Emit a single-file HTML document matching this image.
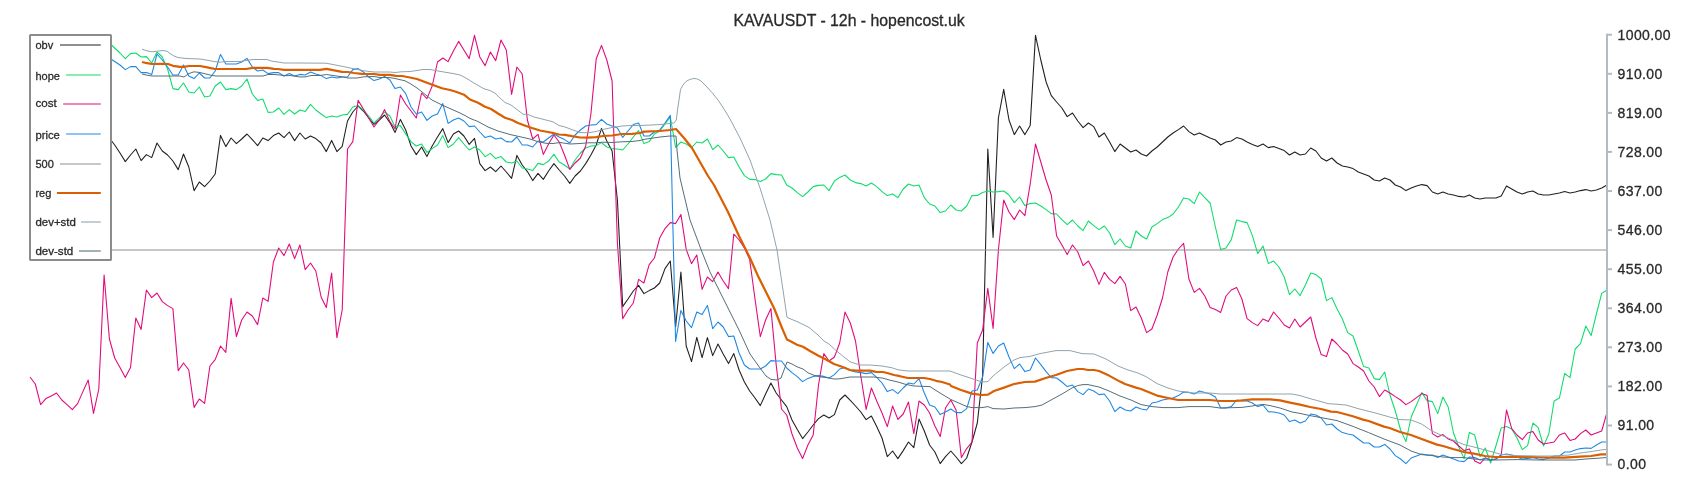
<!DOCTYPE html>
<html><head><meta charset="utf-8"><title>KAVAUSDT - 12h - hopencost.uk</title>
<style>
html,body{margin:0;padding:0;background:#fff;}
body{width:1700px;height:500px;overflow:hidden;position:relative;font-family:"Liberation Sans",sans-serif;}
svg{position:absolute;left:0;top:0;}
text{font-family:"Liberation Sans",sans-serif;fill:#2a2a2a;stroke:#2a2a2a;stroke-width:0.3px;}
.ln{fill:none;stroke-linejoin:round;stroke-linecap:butt;}
.tk{font-size:14px;letter-spacing:0.38px;}
.lg{font-size:11.7px;}
.ttl{font-size:16px;}
</style></head><body>
<svg width="1700" height="500" viewBox="0 0 1700 500">
<rect x="0" y="0" width="1700" height="500" fill="#fff"/>
<g style="filter:grayscale(1)"><text class="ttl" x="849" y="25.6" text-anchor="middle" textLength="231.2" lengthAdjust="spacingAndGlyphs">KAVAUSDT - 12h - hopencost.uk</text></g>
<path class="ln" d="M30.0 150.0 L35.3 146.0 L40.6 152.0 L45.9 148.0 L51.2 158.0 L56.5 150.0 L61.8 144.0 L67.0 152.0 L72.3 147.0 L77.6 155.0 L82.9 149.0 L88.2 143.0 L93.5 150.0 L98.8 142.0 L104.1 134.0 L109.4 138.0 L114.7 145.0 L120.0 153.0 L125.3 161.6 L130.5 155.0 L135.8 149.0 L141.1 160.6 L146.4 154.6 L151.7 157.6 L157.0 143.0 L162.3 151.0 L167.6 155.0 L172.9 161.0 L178.2 169.6 L183.5 154.0 L188.8 167.0 L194.1 190.6 L199.3 182.0 L204.6 186.6 L209.9 181.0 L215.2 174.0 L220.5 135.4 L225.8 146.6 L231.1 138.0 L236.4 143.6 L241.7 139.0 L247.0 134.0 L252.3 139.6 L257.6 145.6 L262.8 138.0 L268.1 140.6 L273.4 135.6 L278.7 133.0 L284.0 137.6 L289.3 132.0 L294.6 140.6 L299.9 133.0 L305.2 139.0 L310.5 136.0 L315.8 138.6 L321.1 143.0 L326.3 151.6 L331.6 140.4 L336.9 151.6 L342.2 146.4 L347.5 121.0 L352.8 112.0 L358.1 106.0 L363.4 111.0 L368.7 118.0 L374.0 124.4 L379.3 120.0 L384.6 115.0 L389.9 122.6 L395.1 132.4 L400.4 119.4 L405.7 130.0 L411.0 146.0 L416.3 154.6 L421.6 147.0 L426.9 156.6 L432.2 146.0 L437.5 137.0 L442.8 128.6 L448.1 142.6 L453.4 134.0 L458.6 131.0 L463.9 136.0 L469.2 144.4 L474.5 138.4 L479.8 163.6 L485.1 170.6 L490.4 167.0 L495.7 171.6 L501.0 166.0 L506.3 172.0 L511.6 178.4 L516.9 155.4 L522.2 165.0 L527.4 171.6 L532.7 180.6 L538.0 173.4 L543.3 179.4 L548.6 171.0 L553.9 163.6 L559.2 170.0 L564.5 176.0 L569.8 183.4 L575.1 176.0 L580.4 171.0 L585.7 163.6 L590.9 155.0 L596.2 145.0 L601.5 128.4 L606.8 141.0 L612.1 151.0 L617.4 200.0 L622.7 306.6 L628.0 299.0 L633.3 291.0 L638.6 285.4 L643.9 293.6 L649.2 290.6 L654.4 288.0 L659.7 283.0 L665.0 268.6 L670.3 261.0 L675.6 327.0 L680.9 272.0 L686.2 346.0 L691.5 361.6 L696.8 337.4 L702.1 357.6 L707.4 337.6 L712.7 355.6 L718.0 344.0 L723.2 354.0 L728.5 363.6 L733.8 353.6 L739.1 370.0 L744.4 382.0 L749.7 391.0 L755.0 398.0 L760.3 405.6 L765.6 394.0 L770.9 383.0 L776.2 393.0 L781.5 400.0 L786.7 406.6 L792.0 420.0 L797.3 429.6 L802.6 438.6 L807.9 432.0 L813.2 425.0 L818.5 418.6 L823.8 415.0 L829.1 418.0 L834.4 414.6 L839.7 400.0 L845.0 395.0 L850.3 400.4 L855.5 406.0 L860.8 412.0 L866.1 419.6 L871.4 416.0 L876.7 426.6 L882.0 438.0 L887.3 456.6 L892.6 451.0 L897.9 458.6 L903.2 450.6 L908.5 442.0 L913.8 447.6 L919.0 419.0 L924.3 431.0 L929.6 445.0 L934.9 452.0 L940.2 463.6 L945.5 456.6 L950.8 451.0 L956.1 457.0 L961.4 463.6 L966.7 458.0 L972.0 442.0 L977.3 423.0 L982.6 376.0 L987.8 149.0 L993.1 237.4 L998.4 118.0 L1003.7 89.4 L1009.0 120.0 L1014.3 134.6 L1019.6 126.0 L1024.9 134.6 L1030.2 125.6 L1035.5 35.4 L1040.8 60.0 L1046.1 82.0 L1051.3 95.6 L1056.6 102.0 L1061.9 108.0 L1067.2 116.6 L1072.5 113.0 L1077.8 121.0 L1083.1 127.6 L1088.4 123.0 L1093.7 126.6 L1099.0 137.0 L1104.3 133.0 L1109.6 142.0 L1114.8 151.6 L1120.1 144.0 L1125.4 148.0 L1130.7 152.0 L1136.0 150.0 L1141.3 154.0 L1146.6 156.0 L1151.9 151.0 L1157.2 147.0 L1162.5 142.0 L1167.8 137.0 L1173.1 133.0 L1178.4 129.6 L1183.6 126.0 L1188.9 131.6 L1194.2 135.0 L1199.5 133.0 L1204.8 135.6 L1210.1 138.0 L1215.4 140.0 L1220.7 145.0 L1226.0 142.0 L1231.3 141.0 L1236.6 137.6 L1241.9 139.0 L1247.1 142.0 L1252.4 144.4 L1257.7 146.6 L1263.0 144.0 L1268.3 147.6 L1273.6 146.6 L1278.9 148.4 L1284.2 150.6 L1289.5 155.0 L1294.8 152.0 L1300.1 155.0 L1305.4 154.0 L1310.7 148.0 L1315.9 151.0 L1321.2 158.0 L1326.5 161.0 L1331.8 158.0 L1337.1 163.0 L1342.4 166.0 L1347.7 167.0 L1353.0 168.6 L1358.3 172.0 L1363.6 174.0 L1368.9 176.0 L1374.2 180.0 L1379.4 181.0 L1384.7 178.0 L1390.0 180.0 L1395.3 185.0 L1400.6 187.0 L1405.9 190.6 L1411.2 188.0 L1416.5 186.0 L1421.8 184.6 L1427.1 185.6 L1432.4 192.0 L1437.7 194.0 L1442.9 192.0 L1448.2 194.0 L1453.5 195.0 L1458.8 196.4 L1464.1 197.0 L1469.4 195.0 L1474.7 198.0 L1480.0 199.0 L1485.3 198.0 L1490.6 198.0 L1495.9 198.0 L1501.2 196.0 L1506.5 186.0 L1511.7 189.0 L1517.0 192.0 L1522.3 194.0 L1527.6 192.0 L1532.9 191.0 L1538.2 194.0 L1543.5 195.0 L1548.8 195.0 L1554.1 194.0 L1559.4 193.0 L1564.7 191.6 L1570.0 193.0 L1575.2 192.0 L1580.5 190.6 L1585.8 189.6 L1591.1 191.0 L1596.4 190.0 L1601.7 188.0 L1607.0 185.0" stroke="#212121" stroke-width="1.08"/>
<path class="ln" d="M30.0 38.0 L35.3 37.0 L40.6 38.0 L45.9 36.0 L51.2 36.0 L56.5 34.5 L61.8 36.0 L67.0 37.0 L72.3 36.5 L77.6 38.0 L82.9 39.0 L88.2 38.0 L93.5 40.0 L98.8 41.0 L104.1 40.0 L109.4 43.0 L114.7 48.0 L120.0 53.0 L125.3 58.6 L130.5 53.6 L135.8 53.0 L141.1 57.0 L146.4 56.6 L151.7 63.0 L157.0 52.0 L162.3 57.0 L167.6 69.0 L172.9 88.6 L178.2 89.6 L183.5 83.0 L188.8 92.0 L194.1 93.0 L199.3 87.0 L204.6 97.0 L209.9 96.0 L215.2 86.0 L220.5 82.0 L225.8 89.6 L231.1 88.6 L236.4 89.6 L241.7 86.0 L247.0 79.0 L252.3 94.0 L257.6 100.4 L262.8 99.0 L268.1 112.4 L273.4 112.0 L278.7 108.0 L284.0 114.4 L289.3 109.6 L294.6 114.0 L299.9 110.0 L305.2 111.6 L310.5 104.4 L315.8 110.0 L321.1 114.0 L326.3 117.6 L331.6 116.0 L336.9 117.0 L342.2 115.0 L347.5 114.4 L352.8 107.0 L358.1 105.6 L363.4 110.0 L368.7 116.0 L374.0 123.0 L379.3 118.0 L384.6 112.0 L389.9 116.0 L395.1 127.0 L400.4 125.6 L405.7 134.0 L411.0 141.6 L416.3 146.0 L421.6 144.0 L426.9 152.4 L432.2 148.6 L437.5 145.0 L442.8 135.6 L448.1 147.6 L453.4 144.0 L458.6 137.6 L463.9 144.0 L469.2 150.0 L474.5 147.0 L479.8 150.0 L485.1 156.6 L490.4 153.4 L495.7 158.6 L501.0 156.6 L506.3 162.0 L511.6 163.0 L516.9 161.0 L522.2 168.0 L527.4 169.0 L532.7 170.6 L538.0 163.4 L543.3 164.6 L548.6 161.0 L553.9 154.4 L559.2 162.0 L564.5 165.0 L569.8 169.0 L575.1 160.0 L580.4 153.0 L585.7 148.0 L590.9 146.0 L596.2 145.6 L601.5 142.6 L606.8 147.0 L612.1 148.6 L617.4 149.0 L622.7 150.0 L628.0 144.0 L633.3 137.0 L638.6 130.6 L643.9 143.6 L649.2 141.6 L654.4 134.0 L659.7 131.0 L665.0 124.0 L670.3 117.0 L675.6 147.4 L680.9 142.0 L686.2 144.0 L691.5 147.6 L696.8 142.0 L702.1 143.0 L707.4 139.0 L712.7 149.6 L718.0 145.0 L723.2 151.0 L728.5 157.6 L733.8 157.0 L739.1 167.0 L744.4 175.6 L749.7 179.4 L755.0 179.6 L760.3 181.6 L765.6 179.0 L770.9 173.6 L776.2 174.6 L781.5 175.0 L786.7 185.0 L792.0 188.0 L797.3 192.6 L802.6 196.6 L807.9 192.0 L813.2 186.6 L818.5 185.4 L823.8 185.0 L829.1 190.6 L834.4 181.0 L839.7 177.4 L845.0 175.0 L850.3 180.0 L855.5 182.6 L860.8 183.6 L866.1 186.0 L871.4 183.0 L876.7 186.6 L882.0 191.6 L887.3 195.6 L892.6 194.0 L897.9 197.6 L903.2 189.0 L908.5 184.0 L913.8 186.0 L919.0 185.0 L924.3 197.6 L929.6 204.0 L934.9 206.0 L940.2 212.6 L945.5 211.0 L950.8 205.0 L956.1 210.0 L961.4 211.0 L966.7 206.0 L972.0 195.6 L977.3 195.4 L982.6 192.6 L987.8 191.0 L993.1 192.0 L998.4 191.6 L1003.7 191.0 L1009.0 195.0 L1014.3 202.6 L1019.6 197.0 L1024.9 205.6 L1030.2 203.6 L1035.5 203.0 L1040.8 206.0 L1046.1 209.6 L1051.3 213.6 L1056.6 214.0 L1061.9 219.6 L1067.2 224.6 L1072.5 220.0 L1077.8 226.0 L1083.1 230.6 L1088.4 221.0 L1093.7 225.6 L1099.0 229.6 L1104.3 226.0 L1109.6 233.0 L1114.8 244.6 L1120.1 239.0 L1125.4 246.0 L1130.7 248.0 L1136.0 231.0 L1141.3 236.0 L1146.6 239.0 L1151.9 227.0 L1157.2 223.6 L1162.5 219.6 L1167.8 217.6 L1173.1 214.0 L1178.4 207.0 L1183.6 198.0 L1188.9 199.0 L1194.2 203.6 L1199.5 192.0 L1204.8 197.6 L1210.1 203.0 L1215.4 227.0 L1220.7 249.6 L1226.0 248.0 L1231.3 239.6 L1236.6 220.0 L1241.9 221.6 L1247.1 222.6 L1252.4 235.6 L1257.7 253.6 L1263.0 246.0 L1268.3 263.4 L1273.6 261.0 L1278.9 267.0 L1284.2 277.0 L1289.5 294.6 L1294.8 289.0 L1300.1 295.6 L1305.4 285.0 L1310.7 273.0 L1315.9 274.6 L1321.2 279.0 L1326.5 300.6 L1331.8 297.6 L1337.1 309.0 L1342.4 319.0 L1347.7 332.6 L1353.0 336.0 L1358.3 351.0 L1363.6 366.6 L1368.9 368.0 L1374.2 378.6 L1379.4 379.6 L1384.7 372.0 L1390.0 395.0 L1395.3 411.0 L1400.6 430.0 L1405.9 441.6 L1411.2 417.0 L1416.5 405.0 L1421.8 392.6 L1427.1 400.6 L1432.4 401.6 L1437.7 413.6 L1442.9 397.0 L1448.2 407.0 L1453.5 433.0 L1458.8 447.0 L1464.1 458.6 L1469.4 432.4 L1474.7 435.0 L1480.0 456.6 L1485.3 448.0 L1490.6 463.0 L1495.9 446.0 L1501.2 428.0 L1506.5 426.4 L1511.7 429.0 L1517.0 438.0 L1522.3 449.6 L1527.6 445.6 L1532.9 423.0 L1538.2 427.6 L1543.5 446.0 L1548.8 434.0 L1554.1 401.0 L1559.4 398.0 L1564.7 373.4 L1570.0 377.6 L1575.2 349.0 L1580.5 343.6 L1585.8 326.0 L1591.1 335.6 L1596.4 314.0 L1601.7 293.4 L1607.0 290.0" stroke="#0fdc6c" stroke-width="1.08"/>
<path class="ln" d="M30.0 377.0 L35.3 384.0 L40.6 404.6 L45.9 398.6 L51.2 396.0 L56.5 393.0 L61.8 400.0 L67.0 404.6 L72.3 409.6 L77.6 403.6 L82.9 391.6 L88.2 380.0 L93.5 413.4 L98.8 389.0 L104.1 275.0 L109.4 339.0 L114.7 358.0 L120.0 367.6 L125.3 377.6 L130.5 367.6 L135.8 318.0 L141.1 329.4 L146.4 290.0 L151.7 297.6 L157.0 293.0 L162.3 301.6 L167.6 305.6 L172.9 308.6 L178.2 370.6 L183.5 363.0 L188.8 370.0 L194.1 407.4 L199.3 399.0 L204.6 403.4 L209.9 366.0 L215.2 359.6 L220.5 346.0 L225.8 352.4 L231.1 298.4 L236.4 336.6 L241.7 320.0 L247.0 312.0 L252.3 316.0 L257.6 324.6 L262.8 298.0 L268.1 301.4 L273.4 262.0 L278.7 248.0 L284.0 255.6 L289.3 244.0 L294.6 258.6 L299.9 245.0 L305.2 269.6 L310.5 263.0 L315.8 271.0 L321.1 297.0 L326.3 307.6 L331.6 273.0 L336.9 337.6 L342.2 310.0 L347.5 149.0 L352.8 141.6 L358.1 100.4 L363.4 109.0 L368.7 118.0 L374.0 127.0 L379.3 120.0 L384.6 109.6 L389.9 121.6 L395.1 129.0 L400.4 95.0 L405.7 104.0 L411.0 111.0 L416.3 118.0 L421.6 93.0 L426.9 98.6 L432.2 86.0 L437.5 62.0 L442.8 58.0 L448.1 61.6 L453.4 51.0 L458.6 41.4 L463.9 50.0 L469.2 58.6 L474.5 35.4 L479.8 57.0 L485.1 65.6 L490.4 52.0 L495.7 60.6 L501.0 40.0 L506.3 50.0 L511.6 94.4 L516.9 67.0 L522.2 74.0 L527.4 120.0 L532.7 139.0 L538.0 134.4 L543.3 154.4 L548.6 144.0 L553.9 135.0 L559.2 142.0 L564.5 155.0 L569.8 169.4 L575.1 163.0 L580.4 158.0 L585.7 146.0 L590.9 114.0 L596.2 59.0 L601.5 45.4 L606.8 60.0 L612.1 81.0 L617.4 243.0 L622.7 318.6 L628.0 310.0 L633.3 303.0 L638.6 279.4 L643.9 283.0 L649.2 264.6 L654.4 258.0 L659.7 238.0 L665.0 228.6 L670.3 222.6 L675.6 223.6 L680.9 214.4 L686.2 249.4 L691.5 263.6 L696.8 255.0 L702.1 289.4 L707.4 277.0 L712.7 281.6 L718.0 272.0 L723.2 281.0 L728.5 288.6 L733.8 234.0 L739.1 240.0 L744.4 248.0 L749.7 259.6 L755.0 299.0 L760.3 336.6 L765.6 320.0 L770.9 308.6 L776.2 365.0 L781.5 409.0 L786.7 415.0 L792.0 434.0 L797.3 448.0 L802.6 458.6 L807.9 445.0 L813.2 435.0 L818.5 385.0 L823.8 353.6 L829.1 361.0 L834.4 357.0 L839.7 343.0 L845.0 312.0 L850.3 323.0 L855.5 341.0 L860.8 376.0 L866.1 409.4 L871.4 388.0 L876.7 401.0 L882.0 413.0 L887.3 426.6 L892.6 406.0 L897.9 419.4 L903.2 414.0 L908.5 402.0 L913.8 433.6 L919.0 401.0 L924.3 405.0 L929.6 413.0 L934.9 426.0 L940.2 436.6 L945.5 408.0 L950.8 400.0 L956.1 410.0 L961.4 457.6 L966.7 448.6 L972.0 442.0 L977.3 343.0 L982.6 330.0 L987.8 288.4 L993.1 328.4 L998.4 250.0 L1003.7 200.0 L1009.0 212.0 L1014.3 219.6 L1019.6 210.0 L1024.9 215.6 L1030.2 184.0 L1035.5 144.0 L1040.8 162.0 L1046.1 180.0 L1051.3 195.0 L1056.6 236.0 L1061.9 245.0 L1067.2 254.6 L1072.5 245.0 L1077.8 252.0 L1083.1 265.6 L1088.4 261.0 L1093.7 271.0 L1099.0 284.4 L1104.3 272.4 L1109.6 279.4 L1114.8 283.6 L1120.1 276.4 L1125.4 284.0 L1130.7 310.6 L1136.0 307.0 L1141.3 318.0 L1146.6 332.6 L1151.9 329.0 L1157.2 315.0 L1162.5 298.0 L1167.8 272.0 L1173.1 257.0 L1178.4 249.0 L1183.6 243.4 L1188.9 279.0 L1194.2 292.4 L1199.5 288.4 L1204.8 296.0 L1210.1 307.4 L1215.4 309.6 L1220.7 312.4 L1226.0 296.0 L1231.3 290.0 L1236.6 287.4 L1241.9 299.0 L1247.1 318.6 L1252.4 322.6 L1257.7 325.6 L1263.0 319.0 L1268.3 321.6 L1273.6 312.0 L1278.9 318.0 L1284.2 325.0 L1289.5 328.0 L1294.8 319.0 L1300.1 327.0 L1305.4 322.0 L1310.7 317.0 L1315.9 338.0 L1321.2 354.6 L1326.5 356.6 L1331.8 339.0 L1337.1 344.0 L1342.4 350.0 L1347.7 354.0 L1353.0 363.6 L1358.3 367.0 L1363.6 371.0 L1368.9 381.0 L1374.2 387.0 L1379.4 396.6 L1384.7 390.0 L1390.0 393.0 L1395.3 396.6 L1400.6 400.0 L1405.9 404.6 L1411.2 401.6 L1416.5 397.6 L1421.8 393.6 L1427.1 395.6 L1432.4 433.6 L1437.7 437.0 L1442.9 434.6 L1448.2 439.0 L1453.5 441.0 L1458.8 446.0 L1464.1 450.6 L1469.4 449.0 L1474.7 461.0 L1480.0 463.6 L1485.3 458.0 L1490.6 460.0 L1495.9 459.0 L1501.2 455.0 L1506.5 410.0 L1511.7 428.6 L1517.0 435.0 L1522.3 439.6 L1527.6 433.0 L1532.9 431.6 L1538.2 440.0 L1543.5 444.0 L1548.8 443.0 L1554.1 442.0 L1559.4 435.0 L1564.7 433.0 L1570.0 440.4 L1575.2 439.0 L1580.5 433.6 L1585.8 430.0 L1591.1 435.0 L1596.4 433.0 L1601.7 431.0 L1607.0 412.4" stroke="#e20a7c" stroke-width="1.08"/>
<path class="ln" d="M30.0 43.5 L35.3 45.0 L40.6 44.0 L45.9 46.0 L51.2 47.0 L56.5 46.0 L61.8 48.0 L67.0 50.0 L72.3 49.0 L77.6 51.0 L82.9 53.0 L88.2 52.0 L93.5 54.0 L98.8 55.0 L104.1 56.0 L109.4 58.0 L114.7 61.5 L120.0 65.0 L125.3 69.6 L130.5 66.6 L135.8 66.6 L141.1 72.6 L146.4 72.6 L151.7 74.6 L157.0 54.0 L162.3 60.0 L167.6 67.0 L172.9 75.0 L178.2 75.0 L183.5 65.0 L188.8 76.0 L194.1 78.6 L199.3 73.0 L204.6 78.0 L209.9 78.0 L215.2 71.0 L220.5 54.4 L225.8 64.0 L231.1 64.0 L236.4 64.0 L241.7 62.0 L247.0 58.4 L252.3 67.0 L257.6 71.0 L262.8 70.0 L268.1 73.6 L273.4 72.6 L278.7 72.6 L284.0 76.0 L289.3 73.6 L294.6 76.0 L299.9 74.4 L305.2 75.0 L310.5 72.0 L315.8 74.0 L321.1 75.6 L326.3 78.6 L331.6 77.0 L336.9 78.0 L342.2 77.0 L347.5 77.0 L352.8 69.6 L358.1 68.6 L363.4 72.0 L368.7 77.0 L374.0 80.6 L379.3 79.0 L384.6 76.4 L389.9 80.0 L395.1 88.6 L400.4 87.0 L405.7 93.6 L411.0 107.0 L416.3 114.0 L421.6 112.0 L426.9 120.4 L432.2 116.0 L437.5 114.0 L442.8 103.6 L448.1 123.4 L453.4 120.0 L458.6 118.0 L463.9 121.0 L469.2 126.6 L474.5 126.0 L479.8 132.0 L485.1 137.6 L490.4 136.0 L495.7 139.0 L501.0 138.0 L506.3 141.6 L511.6 142.0 L516.9 137.0 L522.2 145.0 L527.4 145.0 L532.7 147.0 L538.0 141.0 L543.3 142.0 L548.6 138.0 L553.9 134.0 L559.2 137.0 L564.5 139.6 L569.8 143.0 L575.1 135.0 L580.4 130.0 L585.7 126.0 L590.9 125.0 L596.2 124.6 L601.5 119.4 L606.8 124.0 L612.1 126.0 L617.4 128.0 L622.7 137.4 L628.0 131.0 L633.3 124.6 L638.6 123.0 L643.9 136.0 L649.2 136.0 L654.4 132.0 L659.7 130.0 L665.0 123.0 L670.3 115.4 L675.6 341.4 L680.9 310.4 L686.2 321.0 L691.5 327.6 L696.8 312.0 L702.1 314.6 L707.4 305.4 L712.7 328.6 L718.0 322.0 L723.2 327.0 L728.5 336.6 L733.8 336.0 L739.1 353.0 L744.4 365.0 L749.7 369.0 L755.0 369.0 L760.3 369.0 L765.6 366.0 L770.9 360.6 L776.2 361.0 L781.5 361.0 L786.7 368.0 L792.0 372.6 L797.3 376.6 L802.6 381.6 L807.9 378.4 L813.2 376.4 L818.5 375.6 L823.8 376.4 L829.1 378.0 L834.4 374.6 L839.7 369.0 L845.0 367.4 L850.3 370.6 L855.5 372.0 L860.8 372.6 L866.1 373.6 L871.4 372.6 L876.7 377.4 L882.0 383.0 L887.3 391.6 L892.6 389.6 L897.9 393.6 L903.2 388.0 L908.5 383.0 L913.8 384.0 L919.0 378.6 L924.3 393.0 L929.6 405.0 L934.9 407.0 L940.2 414.6 L945.5 412.0 L950.8 409.0 L956.1 412.6 L961.4 412.6 L966.7 408.6 L972.0 391.0 L977.3 390.0 L982.6 377.0 L987.8 342.4 L993.1 353.4 L998.4 346.0 L1003.7 343.0 L1009.0 357.0 L1014.3 368.6 L1019.6 364.0 L1024.9 371.6 L1030.2 370.0 L1035.5 358.0 L1040.8 364.6 L1046.1 371.6 L1051.3 377.6 L1056.6 378.0 L1061.9 382.0 L1067.2 386.6 L1072.5 385.0 L1077.8 391.6 L1083.1 394.6 L1088.4 389.0 L1093.7 391.0 L1099.0 394.6 L1104.3 394.0 L1109.6 401.0 L1114.8 411.6 L1120.1 407.0 L1125.4 410.0 L1130.7 411.0 L1136.0 407.0 L1141.3 409.0 L1146.6 410.0 L1151.9 403.0 L1157.2 402.0 L1162.5 400.0 L1167.8 399.0 L1173.1 398.0 L1178.4 395.6 L1183.6 392.0 L1188.9 392.4 L1194.2 394.0 L1199.5 391.0 L1204.8 392.6 L1210.1 394.0 L1215.4 397.0 L1220.7 408.0 L1226.0 408.0 L1231.3 406.6 L1236.6 400.0 L1241.9 401.0 L1247.1 401.0 L1252.4 403.0 L1257.7 406.6 L1263.0 405.0 L1268.3 411.6 L1273.6 412.0 L1278.9 413.0 L1284.2 415.0 L1289.5 421.6 L1294.8 420.0 L1300.1 423.0 L1305.4 421.0 L1310.7 414.0 L1315.9 415.0 L1321.2 418.0 L1326.5 425.0 L1331.8 424.0 L1337.1 429.0 L1342.4 432.6 L1347.7 434.0 L1353.0 435.0 L1358.3 439.0 L1363.6 443.0 L1368.9 443.0 L1374.2 447.0 L1379.4 447.0 L1384.7 444.4 L1390.0 449.0 L1395.3 455.6 L1400.6 459.0 L1405.9 463.6 L1411.2 458.0 L1416.5 456.0 L1421.8 454.0 L1427.1 455.0 L1432.4 455.0 L1437.7 457.6 L1442.9 455.0 L1448.2 457.0 L1453.5 459.0 L1458.8 461.0 L1464.1 461.6 L1469.4 457.0 L1474.7 457.6 L1480.0 460.0 L1485.3 458.0 L1490.6 460.0 L1495.9 459.0 L1501.2 455.0 L1506.5 454.0 L1511.7 455.0 L1517.0 457.0 L1522.3 459.0 L1527.6 458.4 L1532.9 457.6 L1538.2 459.0 L1543.5 459.6 L1548.8 458.0 L1554.1 456.0 L1559.4 456.0 L1564.7 452.0 L1570.0 452.0 L1575.2 450.0 L1580.5 448.6 L1585.8 448.0 L1591.1 448.4 L1596.4 445.0 L1601.7 442.0 L1607.0 442.0" stroke="#1e88e5" stroke-width="1.08"/>
<line x1="30" y1="250" x2="1607" y2="250" stroke="#8f8f8f" stroke-width="1.1"/>
<path class="ln" d="M142.0 62.0 L147.0 63.2 L152.0 64.0 L163.0 63.8 L168.0 64.0 L173.0 65.8 L180.0 66.8 L184.0 66.8 L189.0 66.0 L200.0 66.0 L206.0 67.2 L215.0 69.0 L246.0 69.0 L253.0 67.8 L267.0 67.8 L274.0 68.8 L278.0 69.0 L284.0 69.8 L300.0 69.8 L320.0 69.8 L326.5 68.8 L333.0 70.2 L342.0 71.8 L348.0 72.0 L354.0 73.0 L362.0 73.8 L374.0 74.0 L380.0 74.8 L390.0 74.8 L396.0 75.8 L402.0 76.0 L410.0 77.5 L417.0 79.0 L425.0 82.0 L433.0 85.0 L442.0 88.2 L450.0 90.0 L456.0 91.8 L464.0 94.7 L470.0 99.5 L478.0 102.8 L485.0 106.8 L491.0 109.0 L498.0 113.5 L505.0 117.7 L512.0 120.0 L518.0 123.0 L524.0 125.2 L532.0 128.0 L540.0 130.5 L548.0 132.0 L554.0 133.2 L559.0 134.5 L565.0 134.8 L572.0 136.2 L580.0 137.5 L588.0 137.7 L596.0 137.2 L603.0 136.0 L612.0 135.5 L622.0 134.0 L632.0 133.8 L640.0 133.0 L644.0 131.6 L660.0 131.0 L670.0 130.0 L676.0 129.0 L684.0 138.0 L692.0 148.0 L700.0 162.0 L708.0 176.0 L714.0 185.0 L728.0 212.0 L739.0 236.0 L750.0 258.0 L758.0 276.0 L766.0 292.0 L774.0 308.0 L782.0 328.0 L787.0 339.6 L791.0 341.5 L797.0 344.8 L803.0 346.8 L810.0 351.0 L818.0 355.5 L826.0 359.5 L834.0 364.0 L842.0 366.8 L850.0 370.0 L856.0 370.7 L870.0 370.7 L876.0 371.8 L883.0 372.0 L888.0 373.2 L894.0 375.0 L900.0 376.2 L908.0 378.0 L924.0 378.0 L930.0 379.0 L936.0 380.8 L942.0 382.0 L950.0 384.5 L951.0 386.0 L961.0 390.0 L972.0 393.6 L982.0 395.0 L988.0 394.6 L994.0 391.0 L1004.0 387.6 L1014.0 384.0 L1025.0 382.0 L1035.0 381.6 L1045.6 378.0 L1056.0 375.0 L1067.0 371.0 L1077.6 369.0 L1083.0 369.0 L1088.0 370.0 L1094.0 370.0 L1099.0 371.0 L1109.0 375.6 L1120.0 381.6 L1125.0 384.0 L1136.0 387.6 L1141.0 389.0 L1152.0 393.6 L1157.0 395.6 L1168.0 398.0 L1178.0 400.0 L1210.0 400.0 L1220.0 401.0 L1236.0 401.0 L1252.0 399.4 L1270.0 399.4 L1280.0 400.4 L1290.0 402.6 L1300.0 404.6 L1310.0 407.0 L1321.0 409.0 L1331.0 411.6 L1337.0 412.0 L1352.0 416.0 L1363.0 419.6 L1368.6 421.0 L1384.0 426.6 L1389.6 428.0 L1400.0 432.0 L1411.0 435.0 L1421.6 439.0 L1437.0 444.6 L1443.0 446.0 L1453.0 449.0 L1464.0 452.0 L1474.0 453.6 L1485.0 456.0 L1495.0 457.0 L1510.0 457.0 L1530.0 457.0 L1550.0 457.6 L1564.0 457.6 L1580.0 456.6 L1591.0 456.0 L1601.0 454.4 L1606.0 454.4" stroke="#d95f02" stroke-width="2.2"/>
<path class="ln" d="M142.0 49.2 L147.0 50.8 L152.0 51.8 L157.0 51.2 L163.0 50.5 L167.0 51.2 L170.0 53.5 L174.0 56.0 L178.0 57.5 L186.0 58.5 L200.0 59.0 L206.0 60.0 L214.0 61.5 L220.0 62.2 L226.0 61.5 L240.0 61.5 L246.0 60.5 L253.0 59.5 L267.0 59.5 L272.0 61.2 L278.0 62.0 L284.0 63.0 L300.0 63.0 L326.0 63.2 L333.0 64.5 L343.0 66.5 L354.0 68.8 L364.0 70.8 L374.0 72.0 L390.0 72.0 L395.0 72.5 L401.0 71.8 L410.0 71.5 L417.0 70.5 L423.0 69.5 L430.0 69.5 L437.0 70.8 L445.0 72.2 L453.0 73.5 L460.0 75.0 L465.0 77.5 L470.0 80.5 L473.0 82.5 L484.0 88.8 L490.0 90.5 L495.0 93.2 L500.0 98.0 L505.0 102.5 L511.0 105.0 L517.0 109.5 L523.0 114.2 L528.0 114.5 L534.0 117.0 L542.0 119.0 L553.0 121.8 L559.0 125.5 L565.0 127.0 L573.0 130.0 L580.0 132.5 L588.0 132.8 L596.0 131.5 L603.0 129.5 L612.0 127.5 L622.0 126.0 L632.0 125.5 L640.0 125.5 L660.0 124.6 L674.0 123.0 L676.3 120.0 L677.5 110.0 L679.0 100.0 L680.5 89.5 L683.0 85.0 L686.0 81.5 L690.0 79.3 L694.0 78.5 L697.5 79.0 L701.0 81.0 L706.0 86.0 L712.0 92.5 L718.0 100.0 L724.0 109.0 L730.0 119.0 L740.0 138.0 L750.0 160.0 L760.0 188.0 L770.0 220.0 L777.0 250.0 L783.0 290.0 L787.0 317.4 L798.0 322.0 L809.0 327.4 L818.0 335.0 L824.0 341.0 L829.0 344.0 L836.0 350.5 L844.0 357.0 L850.0 361.8 L860.0 365.0 L870.0 365.0 L882.0 366.0 L892.0 367.8 L898.0 369.8 L908.0 371.0 L930.0 371.0 L950.0 371.0 L961.0 375.0 L972.0 378.6 L982.0 382.0 L988.0 381.6 L993.0 376.0 L1004.0 367.0 L1014.0 360.0 L1020.0 357.6 L1030.0 356.4 L1040.0 353.6 L1056.0 350.6 L1070.0 350.6 L1082.0 353.6 L1094.0 354.0 L1106.0 359.0 L1118.0 366.0 L1128.0 370.0 L1138.0 373.0 L1146.0 376.6 L1157.0 383.6 L1168.0 388.0 L1178.0 391.0 L1194.0 393.0 L1210.0 393.0 L1220.0 394.0 L1270.0 394.0 L1292.0 394.0 L1300.0 395.6 L1310.0 398.6 L1321.0 401.6 L1328.0 403.6 L1346.0 405.0 L1358.0 408.6 L1374.0 412.6 L1389.6 417.0 L1400.0 419.6 L1411.0 420.0 L1421.6 424.0 L1432.0 431.0 L1443.0 436.0 L1453.0 440.0 L1464.0 444.6 L1474.0 447.0 L1485.0 450.0 L1495.0 452.6 L1501.0 454.4 L1517.0 455.6 L1538.0 456.0 L1554.0 456.0 L1569.0 455.0 L1580.0 453.0 L1591.0 451.6 L1601.0 450.0 L1606.0 449.4" stroke="#90a4ae" stroke-width="1.0"/>
<path class="ln" d="M142.0 74.0 L147.0 75.2 L152.0 76.0 L180.0 76.0 L184.0 77.0 L189.0 73.5 L194.0 71.8 L200.0 72.5 L206.0 74.0 L212.0 75.5 L216.0 76.0 L263.0 76.0 L268.0 74.5 L274.0 74.5 L280.0 75.0 L284.0 75.8 L290.0 75.5 L295.0 76.2 L300.0 77.0 L306.0 76.8 L311.0 75.5 L320.0 75.5 L326.5 74.5 L333.0 75.5 L342.0 76.8 L348.0 78.0 L357.0 78.0 L364.0 76.8 L374.0 76.5 L380.0 77.5 L389.0 77.5 L395.0 78.5 L405.0 80.8 L410.0 83.5 L417.0 88.0 L424.0 93.5 L432.0 100.0 L442.0 105.0 L460.0 113.0 L465.0 115.5 L470.0 118.4 L478.0 121.5 L488.0 127.0 L498.0 131.0 L510.0 134.5 L522.0 137.2 L530.0 139.0 L538.0 141.8 L546.0 143.3 L553.0 143.5 L560.0 142.5 L570.0 144.0 L580.0 143.5 L588.0 142.8 L596.0 142.8 L603.0 142.2 L612.0 142.5 L622.0 141.8 L632.0 141.5 L640.0 140.5 L644.0 139.4 L660.0 137.0 L670.0 136.0 L676.0 136.0 L677.0 150.0 L680.0 178.0 L690.0 220.0 L702.0 252.0 L710.0 272.0 L719.0 290.0 L730.0 312.0 L739.0 330.0 L750.0 354.0 L760.0 368.0 L766.0 376.0 L771.0 379.4 L777.0 380.0 L781.0 378.0 L787.0 362.0 L792.0 364.0 L797.0 366.8 L803.0 369.0 L808.0 372.8 L814.0 375.3 L820.0 376.8 L828.0 377.8 L834.0 379.0 L840.0 378.8 L850.0 377.0 L874.0 377.0 L883.0 378.2 L890.0 380.2 L898.0 382.0 L905.0 384.2 L914.0 386.0 L930.0 386.6 L940.0 393.0 L951.0 399.6 L961.0 404.0 L967.0 406.6 L972.0 407.6 L982.0 407.6 L988.0 406.6 L993.0 408.6 L1004.0 409.0 L1014.0 408.0 L1025.0 407.6 L1035.0 406.6 L1042.0 405.0 L1051.0 400.0 L1062.0 394.0 L1072.0 388.0 L1077.6 385.6 L1083.0 384.6 L1088.0 384.6 L1099.0 387.0 L1109.0 391.0 L1120.0 396.0 L1131.0 400.0 L1141.0 404.6 L1152.0 406.6 L1163.0 407.6 L1178.0 407.6 L1189.0 406.6 L1210.0 406.6 L1220.0 408.0 L1242.0 407.4 L1252.0 406.0 L1263.0 404.4 L1270.0 405.6 L1280.0 408.0 L1292.0 412.0 L1300.0 413.4 L1310.0 415.6 L1321.0 417.6 L1337.0 420.6 L1352.0 426.0 L1368.6 432.6 L1384.0 439.0 L1400.0 445.0 L1411.0 451.0 L1421.6 454.6 L1432.0 455.6 L1443.0 457.0 L1453.0 457.6 L1464.0 457.6 L1474.0 459.0 L1485.0 460.0 L1495.0 460.0 L1517.0 459.6 L1538.0 460.0 L1554.0 460.0 L1575.0 460.0 L1586.0 459.0 L1601.0 458.0 L1606.0 457.6" stroke="#546e7a" stroke-width="1.0"/>
<g stroke="#b0bcc4" stroke-width="2" fill="none">
<line x1="1607" y1="33.7" x2="1607" y2="465.6"/>
<line x1="1607" y1="34.7" x2="1612" y2="34.7"/>
<line x1="1607" y1="73.8" x2="1612" y2="73.8"/>
<line x1="1607" y1="112.9" x2="1612" y2="112.9"/>
<line x1="1607" y1="151.9" x2="1612" y2="151.9"/>
<line x1="1607" y1="191.0" x2="1612" y2="191.0"/>
<line x1="1607" y1="230.1" x2="1612" y2="230.1"/>
<line x1="1607" y1="269.2" x2="1612" y2="269.2"/>
<line x1="1607" y1="308.3" x2="1612" y2="308.3"/>
<line x1="1607" y1="347.3" x2="1612" y2="347.3"/>
<line x1="1607" y1="386.4" x2="1612" y2="386.4"/>
<line x1="1607" y1="425.5" x2="1612" y2="425.5"/>
<line x1="1607" y1="464.6" x2="1612" y2="464.6"/>
</g>
<g style="filter:grayscale(1)">
<text class="tk" x="1617.6" y="39.5">1000.00</text>
<text class="tk" x="1617.6" y="78.6">910.00</text>
<text class="tk" x="1617.6" y="117.7">819.00</text>
<text class="tk" x="1617.6" y="156.7">728.00</text>
<text class="tk" x="1617.6" y="195.8">637.00</text>
<text class="tk" x="1617.6" y="234.9">546.00</text>
<text class="tk" x="1617.6" y="274.0">455.00</text>
<text class="tk" x="1617.6" y="313.1">364.00</text>
<text class="tk" x="1617.6" y="352.1">273.00</text>
<text class="tk" x="1617.6" y="391.2">182.00</text>
<text class="tk" x="1617.6" y="430.3">91.00</text>
<text class="tk" x="1617.6" y="469.4">0.00</text>
</g>
<rect x="30" y="35" width="81" height="225" rx="0.6" ry="0.6" fill="#fff" stroke="#8c8c8c" stroke-width="2"/>
<g style="filter:grayscale(1)">
<text class="lg" x="35.4" y="48.9" textLength="17.8" lengthAdjust="spacingAndGlyphs">obv</text>
<text class="lg" x="35.4" y="79.6" textLength="24.5" lengthAdjust="spacingAndGlyphs">hope</text>
<text class="lg" x="35.4" y="107.3" textLength="21.3" lengthAdjust="spacingAndGlyphs">cost</text>
<text class="lg" x="35.4" y="138.8" textLength="24.5" lengthAdjust="spacingAndGlyphs">price</text>
<text class="lg" x="35.4" y="167.6" textLength="18.4" lengthAdjust="spacingAndGlyphs">500</text>
<text class="lg" x="35.4" y="196.5" textLength="15.9" lengthAdjust="spacingAndGlyphs">reg</text>
<text class="lg" x="35.4" y="225.6" textLength="40.5" lengthAdjust="spacingAndGlyphs">dev+std</text>
<text class="lg" x="35.4" y="254.5" textLength="37.9" lengthAdjust="spacingAndGlyphs">dev-std</text>
</g>
<line x1="60.0" y1="45.00" x2="100.8" y2="45.00" stroke="#212121" stroke-width="1.08"/>
<line x1="66.0" y1="75.00" x2="100.8" y2="75.00" stroke="#0fdc6c" stroke-width="1.08"/>
<line x1="63.2" y1="104.00" x2="100.8" y2="104.00" stroke="#e20a7c" stroke-width="1.08"/>
<line x1="66.1" y1="134.00" x2="100.8" y2="134.00" stroke="#1e88e5" stroke-width="1.08"/>
<line x1="60.0" y1="164.00" x2="100.8" y2="164.00" stroke="#8f8f8f" stroke-width="1.08"/>
<line x1="56.9" y1="193.00" x2="100.8" y2="193.00" stroke="#d95f02" stroke-width="2"/>
<line x1="81.0" y1="222.00" x2="100.8" y2="222.00" stroke="#90a4ae" stroke-width="1.08"/>
<line x1="79.0" y1="251.00" x2="100.8" y2="251.00" stroke="#546e7a" stroke-width="1.08"/>
</svg></body></html>
